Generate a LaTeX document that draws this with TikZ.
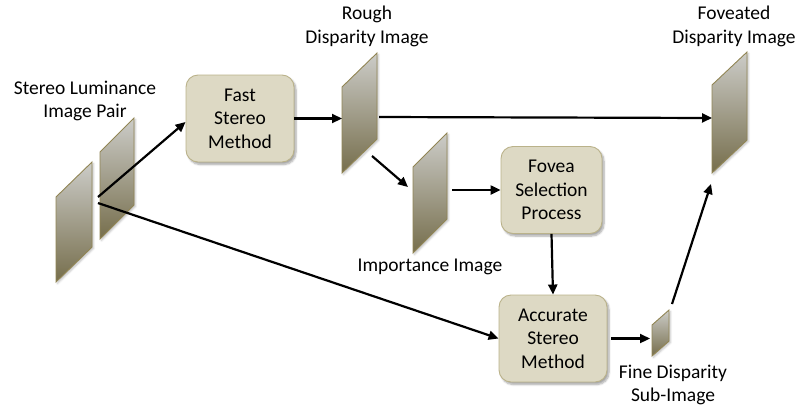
\documentclass[tikz,border=0pt]{standalone}
\usepackage{fontspec}
\setmainfont{Carlito}
\usetikzlibrary{arrows.meta,shadows.blur}

\definecolor{boxfill}{RGB}{221,217,196}
\definecolor{boxedge}{RGB}{186,178,138}
\definecolor{planetop}{RGB}{204,204,200}
\definecolor{planebot}{RGB}{118,110,76}
\definecolor{planeedge}{RGB}{145,133,84}

\tikzset{
  lbl/.style={font=\fontsize{19.5}{23.5}\selectfont, align=center, inner sep=0pt},
  procbox/.style={lbl, draw=boxedge, line width=0.9pt, fill=boxfill,
    rounded corners=12pt, minimum height=87pt,
    blur shadow={shadow xshift=2pt, shadow yshift=-2.5pt, shadow blur steps=6, shadow opacity=35}},
  planestyle/.style={top color=planetop, bottom color=planebot, draw=planeedge, line width=0.9pt,
    blur shadow={shadow xshift=1.5pt, shadow yshift=-1.5pt, shadow blur steps=4, shadow opacity=25}},
  flow/.style={draw=black, line width=2.2pt, -{Triangle[length=10pt,width=9pt]}},
}

% image plane: left x, top y of left edge, width, height, rise of right edge
\newcommand\imgplane[5]{%
  \shade[planestyle] (#1,#2) -- ++(#3,-#5) -- ++(0,#4) -- ++(-#3,#5) -- cycle;}

\begin{document}
\begin{tikzpicture}[x=1pt,y=-1pt]
\useasboundingbox (0,0) rectangle (802,410);

% image planes
\imgplane{56}{197}{36}{85}{35}
\imgplane{100}{152}{34}{87}{34}
\imgplane{342}{87}{35}{86}{34}
\imgplane{413}{167}{34}{86}{34}
\imgplane{712}{85}{35}{88}{33}
\imgplane{652}{325}{17}{31}{15}

% processing blocks
\node[procbox, minimum width=108pt] (fast) at (240,118.5) {Fast\\Stereo\\Method};
\node[procbox, minimum width=101pt] (fovea) at (551.5,190) {Fovea\\Selection\\Process};
\node[procbox, minimum width=108pt] (acc) at (553,338.5) {Accurate\\Stereo\\Method};

% labels
\node[lbl] (pairlbl) at (85,101) {Stereo Luminance\\Image Pair};
\node[lbl] (roughlbl) at (367,26.5) {Rough\\Disparity Image};
\node[lbl] (fovlbl) at (734,26.5) {Foveated\\Disparity Image};
\node[lbl] (implbl) at (430,267) {Importance Image};
\node[lbl] (finelbl) at (673,385) {Fine Disparity\\Sub-Image};

% connector end points on the image planes
\coordinate (pairA) at (98,197);
\coordinate (pairB) at (98,203);
\coordinate (roughL) at (342,118.5);
\coordinate (roughR) at (379,117);
\coordinate (roughD) at (372,156);
\coordinate (impIn) at (408,187);
\coordinate (impOut) at (452,190);
\coordinate (fovL) at (712,118);
\coordinate (fovD) at (711,184);
\coordinate (fineL) at (650,338.5);
\coordinate (fineU) at (672,304);

% data flow
\draw[flow] (pairA) -- ([yshift=-3.5pt]fast.west);
\draw[flow] (pairB) -- (acc.west);
\draw[flow] (fast.east) -- (roughL);
\draw[flow] (roughR) -- (fovL);
\draw[flow] (roughD) -- (impIn);
\draw[flow] (impOut) -- (fovea.west);
\draw[flow] (fovea.south) -- (acc.north);
\draw[flow, shorten <=4pt] (acc.east) -- (fineL);
\draw[flow] (fineU) -- (fovD);
\end{tikzpicture}
\end{document}
